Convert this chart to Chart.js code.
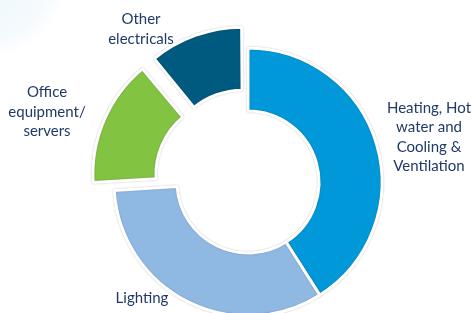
<!DOCTYPE html>
<html>
<head>
<meta charset="utf-8">
<script src="https://cdn.jsdelivr.net/npm/chart.js@4"></script>
<style>
  html, body { margin: 0; padding: 0; }
  body {
    width: 473px; height: 313px; overflow: hidden;
    background: radial-gradient(circle at -20px -30px, #eef7fc 0, #f4fafd 70px, #ffffff 90px);
  }
  #wrap { position: relative; width: 473px; height: 313px; }
</style>
</head>
<body>
<div id="wrap"><canvas id="energyChart" width="473" height="313"></canvas></div>
<script>
// Energy use share (%)
const categories = [
  ["Heating, Hot", "water and", "Cooling &", "Ventilation"],
  ["Lighting"],
  ["Office", "equipment/", "servers"],
  ["Other", "electricals"]
];
const shares = [41, 33, 15, 11];
const sliceColors = ["#0098d8", "#8fb9e3", "#82c341", "#005a80"];
// chart.js scales the offset down (about a third for these slice sizes)
const sliceOffsets = [0, 0, 76, 64];

// where each label sits, relative to the ring centre
const labelAnchors = [
  { dx: 181, dy: -45 },
  { dx: -106, dy: 116 },
  { dx: -201, dy: -70 },
  { dx: -107, dy: -153 }
];

const labelPlugin = {
  id: "sliceLabels",
  afterDatasetsDraw(chart) {
    const ctx = chart.ctx;
    const arcs = chart.getDatasetMeta(0).data;
    const cx = arcs[0].x, cy = arcs[0].y;
    ctx.save();
    ctx.fillStyle = "#1f3a68";
    ctx.font = "15px Lato, 'Open Sans', sans-serif";
    ctx.textAlign = "center";
    ctx.textBaseline = "middle";
    const lineH = 19.5;
    categories.forEach((lines, i) => {
      const a = labelAnchors[i];
      const top = cy + a.dy - (lines.length - 1) * lineH / 2;
      lines.forEach((t, j) => ctx.fillText(t, cx + a.dx, top + j * lineH));
    });
    ctx.restore();
  }
};

const shadowPlugin = {
  id: "softEdge",
  beforeDatasetDraw(chart) {
    const ctx = chart.ctx;
    ctx.save();
    ctx.shadowColor = "rgba(0,0,0,0.28)";
    ctx.shadowBlur = 1.5;
  },
  afterDatasetDraw(chart) {
    chart.ctx.restore();
  }
};

new Chart(document.getElementById("energyChart"), {
  type: "doughnut",
  data: {
    labels: categories.map(l => l.join(" ")),
    datasets: [{
      data: shares,
      backgroundColor: sliceColors,
      borderColor: "#ffffff",
      borderWidth: 3,
      borderAlign: "center",
      offset: sliceOffsets,
      hoverOffset: 0
    }]
  },
  options: {
    responsive: false,
    animation: false,
    radius: 134,
    cutout: "53%",
    layout: { padding: { left: 23, right: 0, top: 51, bottom: 0 } },
    plugins: {
      legend: { display: false },
      tooltip: { enabled: false }
    }
  },
  plugins: [shadowPlugin, labelPlugin]
});
</script>
</body>
</html>
